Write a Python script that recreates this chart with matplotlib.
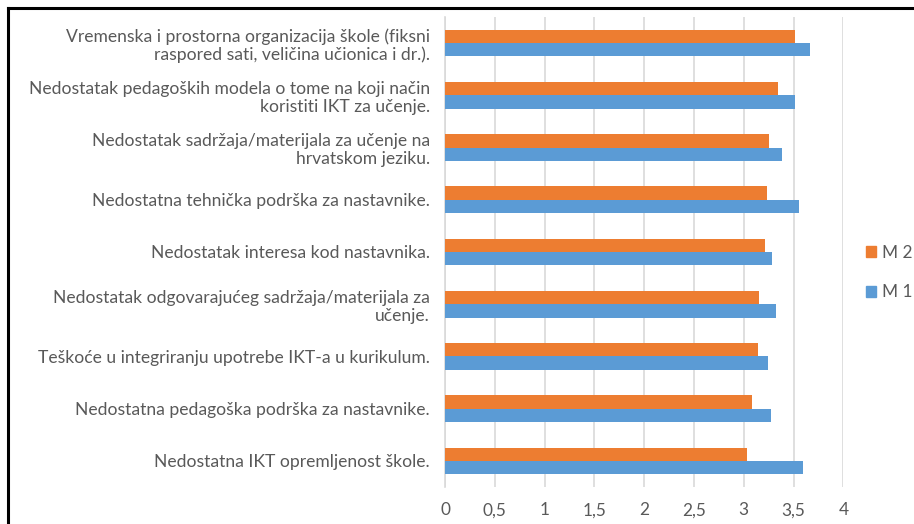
# grouped horizontal bars, M 1 vs M 2 per obstacle

import matplotlib.pyplot as plt
import numpy as np
from matplotlib.lines import Line2D
from matplotlib.patches import Patch

plt.rcParams['font.family'] = ['Lato', 'DejaVu Sans']

# categories listed top to bottom
categories = [
    "Vremenska i prostorna organizacija škole (fiksni\nraspored sati, veličina učionica i dr.).",
    "Nedostatak pedagoških modela o tome na koji način\nkoristiti IKT za učenje.",
    "Nedostatak sadržaja/materijala za učenje na\nhrvatskom jeziku.",
    "Nedostatna tehnička podrška za nastavnike.",
    "Nedostatak interesa kod nastavnika.",
    "Nedostatak odgovarajućeg sadržaja/materijala za\nučenje.",
    "Teškoće u integriranju upotrebe IKT-a u kurikulum.",
    "Nedostatna pedagoška podrška za nastavnike.",
    "Nedostatna IKT opremljenost škole.",
]
m1 = [3.67, 3.51, 3.38, 3.55, 3.28, 3.32, 3.24, 3.27, 3.59]
m2 = [3.51, 3.34, 3.25, 3.23, 3.21, 3.15, 3.14, 3.08, 3.03]
xticks = [0, 0.5, 1, 1.5, 2, 2.5, 3, 3.5, 4]
xticklabels = ["0", "0,5", "1", "1,5", "2", "2,5", "3", "3,5", "4"]

blue = "#5B9BD5"
orange = "#ED7D31"
grey = "#595959"

fig = plt.figure(figsize=(9.14, 5.24), dpi=100)
ax = fig.add_axes([0.4869, 0.0706, 0.4358, 0.897])

y = np.arange(len(categories))
h = 0.255
ax.barh(y - h / 2, m2, height=h, color=orange, edgecolor="none", zorder=3)
ax.barh(y + h / 2, m1, height=h, color=blue, edgecolor="none", zorder=3)

ax.set_ylim(len(categories) - 0.5, -0.5)
ax.set_xlim(0, 4)
ax.set_yticks(y)
ax.set_yticklabels(categories, fontsize=12.6, color=grey, ha="right",
                   multialignment="right", linespacing=1.15)
ax.set_xticks(xticks)
ax.set_xticklabels(xticklabels, fontsize=12.4, color=grey)
ax.tick_params(axis="both", length=0)
ax.tick_params(axis="y", pad=11)
ax.tick_params(axis="x", pad=11)

ax.grid(axis="x", color="#D9D9D9", linewidth=1.2, zorder=0)
for side in ["top", "right", "bottom"]:
    ax.spines[side].set_visible(False)
ax.spines["left"].set_color("#D9D9D9")
ax.spines["left"].set_linewidth(1.2)

handles = [Patch(color=orange, label="M 2"), Patch(color=blue, label="M 1")]
fig.legend(handles=handles, loc="center left", bbox_to_anchor=(0.938, 0.48),
           frameon=False, fontsize=12.4, labelcolor=grey, handlelength=0.6,
           handleheight=0.6, handletextpad=0.35, labelspacing=1.35, borderpad=0)

# cropped black frame (top and left edges only)
fig.add_artist(Line2D([0.009, 1.0], [1 - 8 / 524, 1 - 8 / 524], color="black", linewidth=2.2))
fig.add_artist(Line2D([0.009, 0.009], [0.0, 1 - 8 / 524], color="black", linewidth=2.2))

fig.savefig("out.png", dpi=100)
